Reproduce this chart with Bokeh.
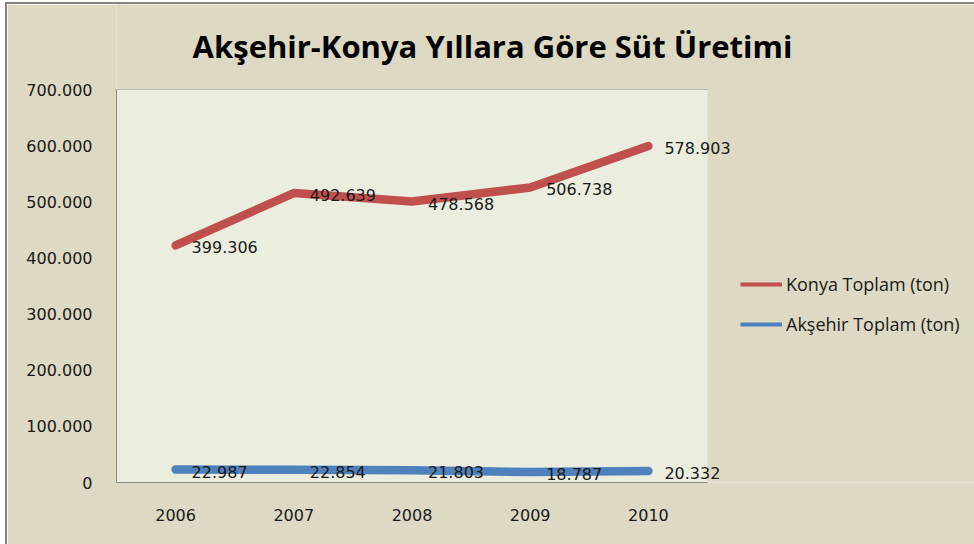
from bokeh.plotting import figure
from bokeh.models import (ColumnDataSource, Range1d, FixedTicker, LabelSet, Label, Legend,
                          LegendItem, BoxAnnotation)
from bokeh.core.properties import value
from bokeh.embed import file_html
from bokeh.resources import INLINE

years = ["2006", "2007", "2008", "2009", "2010"]
konya = [399306, 492639, 478568, 506738, 578903]
aksehir = [22987, 22854, 21803, 18787, 20332]
y_ticks = [0, 100000, 200000, 300000, 400000, 500000, 600000, 700000]
y_tick_labels = ["0", "100.000", "200.000", "300.000", "400.000", "500.000", "600.000", "700.000"]
series_names = ["Konya Toplam (ton)", "Akşehir Toplam (ton)"]
title_text = "Akşehir-Konya Yıllara Göre Süt Üretimi"

def fmt(v):
    return f"{v:,}".replace(",", ".")

n = len(years)
xpos = [i + 0.5 for i in range(n)]          # category centres
# stacked line chart: Konya series drawn on top of Akşehir
konya_stacked = [k + a for k, a in zip(konya, aksehir)]

src_k = ColumnDataSource(dict(x=xpos, y=konya_stacked, lab=[fmt(v) for v in konya]))
src_a = ColumnDataSource(dict(x=xpos, y=aksehir, lab=[fmt(v) for v in aksehir]))

BG = "#DDD9C3"
PLOT_BG = "#EBEEDF"
GRID = "#8A8A8A"
RED = "#C0504D"
BLUE = "#4F81BD"

# frame spans from the plot area's left edge to the right and top edges of the chart
W, H = 967, 540
LEFT, BOTTOM = 109, 62
FW, FH = W - LEFT, H - BOTTOM
PX_PER_CAT = 118.2
PX_PER_UNIT = 393 / 700000
p = figure(width=W, height=H, frame_width=FW, frame_height=FH,
           x_range=Range1d(0, FW / PX_PER_CAT), y_range=Range1d(0, FH / PX_PER_UNIT),
           output_backend="svg", toolbar_location=None,
           min_border_left=LEFT, min_border_right=0, min_border_top=0, min_border_bottom=BOTTOM)
p.styles = {"margin-left": "5px", "margin-top": "2px",
            "border-left": "2px solid #848484", "border-top": "2px solid #848484"}
p.border_fill_color = BG
p.background_fill_color = BG
p.outline_line_color = None

# plot area background
p.add_layout(BoxAnnotation(left=0, right=n, bottom=y_ticks[0], top=y_ticks[-1],
                           fill_color=PLOT_BG, fill_alpha=1, line_color=None, level="underlay"))
# horizontal gridlines
p.segment(x0=[0] * len(y_ticks), x1=[n] * len(y_ticks), y0=y_ticks, y1=y_ticks,
          line_color=GRID, line_width=1, level="underlay")

p.xaxis.ticker = FixedTicker(ticks=xpos)
p.xaxis.major_label_overrides = {x: y for x, y in zip(xpos, years)}
p.xaxis.bounds = (0, n)
p.yaxis.ticker = FixedTicker(ticks=y_ticks)
p.yaxis.major_label_overrides = {t: l for t, l in zip(y_ticks, y_tick_labels)}
p.yaxis.bounds = (y_ticks[0], y_ticks[-1])
for ax in (p.xaxis, p.yaxis):
    ax.axis_line_color = GRID
    ax.axis_line_width = 1
    ax.major_tick_line_color = None
    ax.minor_tick_line_color = None
    ax.major_label_text_font = "DejaVu Sans"
    ax.major_label_text_font_size = "16px"
    ax.major_label_text_color = "#1a1a1a"
p.yaxis.major_label_standoff = 18
p.xaxis.major_label_standoff = 20
p.grid.visible = False

r_k = p.line("x", "y", source=src_k, line_color=RED, line_width=8.5,
             line_cap="round", line_join="round")
r_a = p.line("x", "y", source=src_a, line_color=BLUE, line_width=8.5,
             line_cap="round", line_join="round")

for s in (src_k, src_a):
    p.add_layout(LabelSet(x="x", y="y", text="lab", source=s, x_offset=16, y_offset=-2,
                          text_align="left", text_baseline="middle",
                          text_font=value("DejaVu Sans"), text_font_size="16px",
                          text_color="#1a1a1a"))

p.add_layout(Label(x=376, y=437, x_units="screen", y_units="screen", text=title_text,
                   text_align="center", text_baseline="middle",
                   text_font="Open Sans", text_font_style="bold", text_font_size="31px",
                   text_color="#000000"))

# legend swatches (thinner than the series lines)
lk = p.line(x=xpos[:1], y=konya_stacked[:1], line_color=RED, line_width=4)
la = p.line(x=xpos[:1], y=aksehir[:1], line_color=BLUE, line_width=4)
legend = Legend(items=[LegendItem(label=series_names[0], renderers=[lk]),
                       LegendItem(label=series_names[1], renderers=[la])],
                location=(624, 146), orientation="vertical",
                glyph_width=42, glyph_height=20, label_height=20, spacing=16,
                label_standoff=4, padding=0, margin=0,
                background_fill_alpha=0, border_line_color=None,
                label_text_font="Open Sans", label_text_font_size="18px",
                label_text_color="#1a1a1a")
p.add_layout(legend)

open("out.html", "w").write(file_html(p, INLINE))
